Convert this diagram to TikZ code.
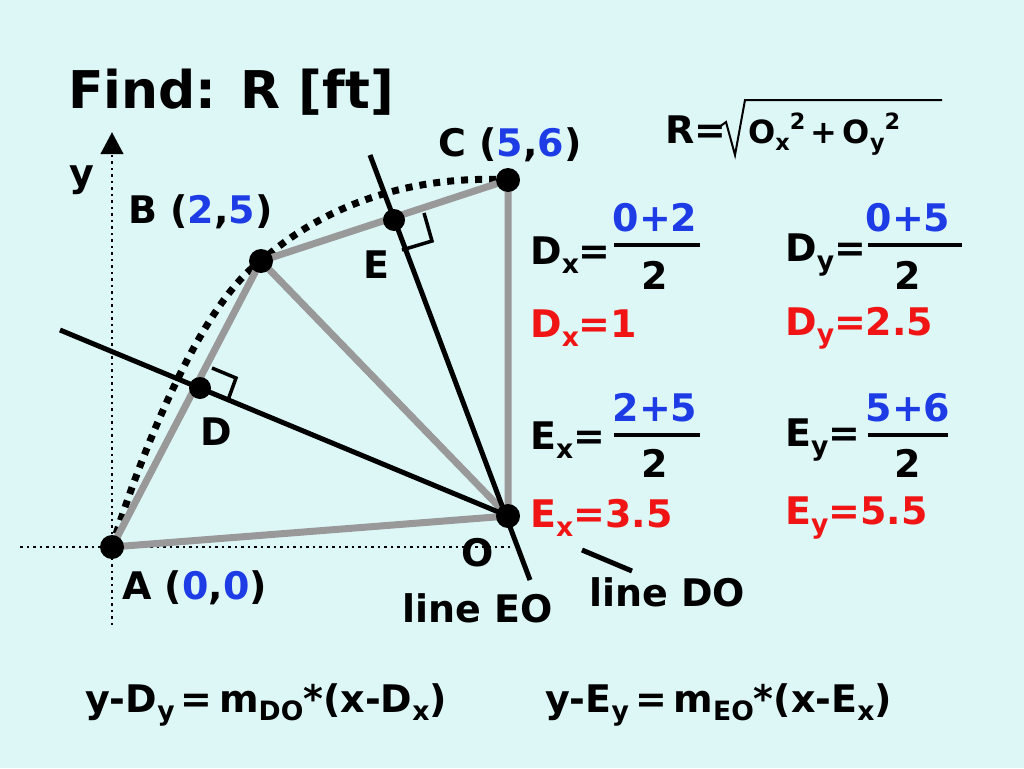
\documentclass[tikz,border=0pt]{standalone}
\usepackage{fontspec}
\setmainfont{DejaVu Sans}
\usepackage{graphicx}
\usetikzlibrary{arrows.meta}
\definecolor{bg}{HTML}{DDF7F7}
\definecolor{bl}{HTML}{1E3CE6}
\definecolor{rd}{HTML}{F01414}
\definecolor{gr}{HTML}{999999}
\newcommand{\lo}[1]{\raisebox{-0.22em}{\scalebox{0.7}{#1}}}
\newcommand{\hi}[1]{\raisebox{0.45em}{\scalebox{0.7}{#1}}}
\tikzset{
 txt/.style={font=\bfseries\fontsize{38}{40}\selectfont, inner sep=0pt},
 glin/.style={gr, line width=7pt},
 blin/.style={black, line width=5pt},
 dot/.style={circle, fill=black, minimum size=24pt, inner sep=0pt},
 bar/.style={line width=4pt},
 axis/.style={dash pattern=on 2.5pt off 4pt, line width=2.5pt}
}
\begin{document}
\begin{tikzpicture}[x=1pt,y=-1pt]
\fill[bg] (0,0) rectangle (1024,768);
\useasboundingbox (0,0) rectangle (1024,768);
% axes
\coordinate (yb) at (112,625);
\coordinate (yt) at (112,132);
\coordinate (ya) at (112,150);
\coordinate (xl) at (20,547);
\coordinate (xr) at (510,547);
\draw[axis] (yb) -- (yt);
\draw[line width=4pt,-{Triangle[length=22pt,width=22pt]}] (ya) -- (yt);
\draw[axis] (xl) -- (xr);
% points
\coordinate (A) at (112,547);
\coordinate (B) at (261,261);
\coordinate (C) at (508,180);
\coordinate (O) at (508,516);
\coordinate (D) at (200,388);
\coordinate (E) at (394,220);
% arc
\draw[line width=7pt, dash pattern=on 7pt off 7pt] (A) .. controls (145,440) and (205,300) .. (B) .. controls (330,200) and (420,175) .. (C);
% gray triangle lines
\draw[glin] (A) -- (B) -- (C) -- (O) -- cycle;
\draw[glin] (B) -- (O);
% black lines
\coordinate (d1) at (60,330);
\coordinate (e1) at (370,155);
\coordinate (e2) at (530,580);
\draw[blin] (d1) -- (O);
\draw[blin] (e1) -- (e2);
\coordinate (p1) at (582,550);
\coordinate (p2) at (632,571);
\draw[blin] (p1) -- (p2);
% right angle marks
\draw[line width=3.5pt] (402,250) -- (432,241) -- (424,213);
\draw[line width=3.5pt] (212,368) -- (236,378) -- (228,400);
% dots
\foreach \p in {A,B,C,O}{\node[dot] (n\p) at (\p) {};}
\node[dot, minimum size=22pt] (nD) at (D) {};
\node[dot, minimum size=22pt] (nE) at (E) {};
% labels
\node[txt, font=\bfseries\fontsize{52}{54}\selectfont, anchor=west] (title) at (68,92) {Find: R [ft]};
\node[txt] (ly) at (82,180) {y};
\node[txt, anchor=west] (lC) at (438,145) {C (\textcolor{bl}{5},\textcolor{bl}{6})};
\node[txt, anchor=west] (lB) at (128,212) {B (\textcolor{bl}{2},\textcolor{bl}{5})};
\node[txt] (lE) at (376,265) {E};
\node[txt] (lD) at (216,432) {D};
\node[txt] (lO) at (478,553) {O};
\node[txt, anchor=west] (lA) at (122,588) {A (\textcolor{bl}{0},\textcolor{bl}{0})};
\node[txt] (lEO) at (478,608) {line EO};
\node[txt] (lDO) at (667,592) {line DO};
% R formula
\node[txt, anchor=west] (R) at (665,130) {R=};
\draw[line width=2pt] (718,128) -- (726,122) -- (735,155) -- (745,100) -- (942,100);
\node[txt, anchor=west, font=\bfseries\fontsize{32}{34}\selectfont] (Rin) at (748,134) {O\lo{x}\hi{2}\,+\,O\lo{y}\hi{2}};
% fractions
\node[txt, anchor=west] (Dx) at (530,255) {D\lo{x}=};
\node[txt, bl] (Dxn) at (655,218) {0+2};
\draw[bar] (614,245) -- (700,245);
\node[txt] (Dxd) at (655,275) {2};
\node[txt, anchor=west] (Dy) at (785,255) {D\lo{y}=};
\node[txt, bl] (Dyn) at (908,218) {0+5};
\draw[bar] (868,245) -- (962,245);
\node[txt] (Dyd) at (908,275) {2};
\node[txt, rd, anchor=west] (Dx1) at (530,328) {D\lo{x}=1};
\node[txt, rd, anchor=west] (Dy1) at (785,328) {D\lo{y}=2.5};
\node[txt, anchor=west] (Ex) at (530,440) {E\lo{x}=};
\node[txt, bl] (Exn) at (655,408) {2+5};
\draw[bar] (614,435) -- (700,435);
\node[txt] (Exd) at (655,463) {2};
\node[txt, anchor=west] (Ey) at (785,440) {E\lo{y}=};
\node[txt, bl] (Eyn) at (908,408) {5+6};
\draw[bar] (868,435) -- (948,435);
\node[txt] (Eyd) at (908,463) {2};
\node[txt, rd, anchor=west] (Ex1) at (530,518) {E\lo{x}=3.5};
\node[txt, rd, anchor=west] (Ey1) at (785,518) {E\lo{y}=5.5};
% bottom equations
\node[txt, anchor=west] (eq1) at (85,705) {y-D\lo{y}\,=\,m\lo{DO}*(x-D\lo{x})};
\node[txt, anchor=west] (eq2) at (545,705) {y-E\lo{y}\,=\,m\lo{EO}*(x-E\lo{x})};
\end{tikzpicture}
\end{document}
